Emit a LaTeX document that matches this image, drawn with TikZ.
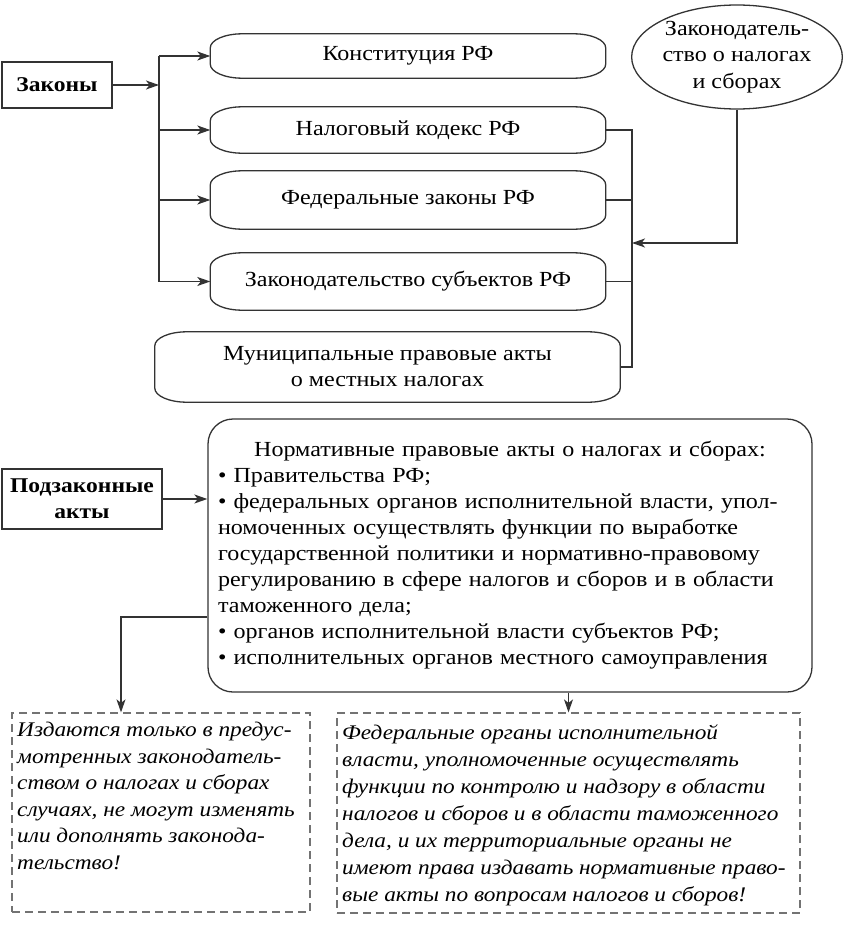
\documentclass[tikz,border=0pt]{standalone}
\usepackage{fontspec}
\setmainfont{Liberation Serif}[FakeStretch=1.12]
\usetikzlibrary{arrows.meta,shapes.geometric}
\definecolor{lc}{gray}{0.2}
\definecolor{dc}{gray}{0.45}
\tikzset{
  ln/.style={draw=lc, line width=1.3pt},
  arr/.style={ln, -{Stealth[length=13pt,width=9pt,inset=3.5pt]}},
  capn/.style={draw=none, inner sep=0pt, minimum width=395pt, align=center, font=\fontsize{21.5}{26}\selectfont},
  sqbox/.style={ln, rectangle, inner sep=0pt, align=center, font=\bfseries\fontsize{21}{26}\selectfont},
  dbox/.style={draw=dc, line width=1.2pt, dash pattern=on 8pt off 5pt, rectangle, inner sep=0pt},
  itxt/.style={inner sep=0pt, anchor=north west, align=left, font=\itshape\fontsize{20.8}{26.5}\selectfont},
}
\newcommand{\capbox}[1]{%
  \draw[ln] ([yshift=-14pt]#1.north west) arc[start angle=180,end angle=90,x radius=32pt,y radius=14pt]
    -- ([xshift=-32pt]#1.north east) arc[start angle=90,end angle=0,x radius=32pt,y radius=14pt]
    -- ([yshift=14pt]#1.south east) arc[start angle=0,end angle=-90,x radius=32pt,y radius=14pt]
    -- ([xshift=32pt]#1.south west) arc[start angle=270,end angle=180,x radius=32pt,y radius=14pt]
    -- cycle;}
\begin{document}
\begin{tikzpicture}[x=1pt,y=-1pt]
\useasboundingbox (0,0) rectangle (844,934);
% upper part
\node[sqbox, minimum width=110pt, minimum height=46pt] (zak) at (57,85) {Законы};
\node[capn, minimum height=44pt] (kon) at (408,56) {Конституция РФ};
\node[capn, minimum height=46pt] (nal) at (408,130) {Налоговый кодекс РФ};
\node[capn, minimum height=58pt] (fed) at (408,200) {Федеральные законы РФ};
\node[capn, minimum height=57pt] (subj) at (408,281.5) {Законодательство субъектов РФ};
\node[capn, minimum width=465pt, minimum height=70pt] (mun) at (387.5,367) {Муниципальные правовые акты\\о местных налогах};
\capbox{kon}\capbox{nal}\capbox{fed}\capbox{subj}\capbox{mun}
\node[ln, ellipse, inner sep=0pt, minimum width=210pt, minimum height=104pt, align=center,
      font=\fontsize{21.5}{26.5}\selectfont] (ell) at (737,57) {\raisebox{0pt}[0pt][0pt]{}Законодатель-\\ство о налогах\\и сборах};
\coordinate (bx) at (159,85);
\coordinate (rx) at (632,243);
\draw[arr] (zak.east) -- (bx);
\draw[ln] (kon.west -| bx) -- (subj.west -| bx);
\draw[arr] (kon.west -| bx) -- (kon.west);
\draw[arr] (nal.west -| bx) -- (nal.west);
\draw[arr] (fed.west -| bx) -- (fed.west);
\draw[arr] (subj.west -| bx) -- (subj.west);
\draw[ln] (nal.east) -- (nal.east -| rx) -- (mun.east -| rx) -- (mun.east);
\draw[ln] (fed.east) -- (fed.east -| rx);
\draw[ln] (subj.east) -- (subj.east -| rx);
\draw[arr] (ell.south) |- (rx);
% lower part
\node[sqbox, minimum width=160pt, minimum height=60pt] (podz) at (82,499) {Подзаконные\\акты};
\node[ln, rectangle, rounded corners=25pt, inner sep=0pt, minimum width=604pt, minimum height=273pt,
      text width=584pt, align=left, font=\fontsize{21.5}{26}\selectfont] (big) at (510,555.5)
  {\makebox[584pt][c]{Нормативные правовые акты о налогах и сборах:}\\
   • Правительства РФ;\\
   • федеральных органов исполнительной власти, упол-\\
   номоченных осуществлять функции по выработке\\
   государственной политики и нормативно-правовому\\
   регулированию в сфере налогов и сборов и в области\\
   таможенного дела;\\
   • органов исполнительной власти субъектов РФ;\\
   • исполнительных органов местного самоуправления};
\node[dbox, minimum width=298pt, minimum height=199pt] (d1) at (161,812.5) {};
\node[dbox, minimum width=463pt, minimum height=200pt] (d2) at (568.5,813) {};
\node[itxt] (t1) at (17,722) {Издаются только в предус-\\мотренных законодатель-\\ством о налогах и сборах\\случаях, не могут изменять\\или дополнять законода-\\тельство!};
\node[itxt, font=\itshape\fontsize{20.8}{27}\selectfont] (t2) at (342,724) {Федеральные органы исполнительной\\власти, уполномоченные осуществлять\\функции по контролю и надзору в области\\налогов и сборов и в области таможенного\\дела, и их территориальные органы не\\имеют права издавать нормативные право-\\вые акты по вопросам налогов и сборов!};
\coordinate (lc) at (121,617);
\draw[arr] (podz.east) -- (big.west |- podz.east);
\draw[arr] (big.west |- lc) -| (lc |- d1.north);
\draw[arr] (big.south -| d2.north) -- (d2.north);
\end{tikzpicture}
\end{document}
